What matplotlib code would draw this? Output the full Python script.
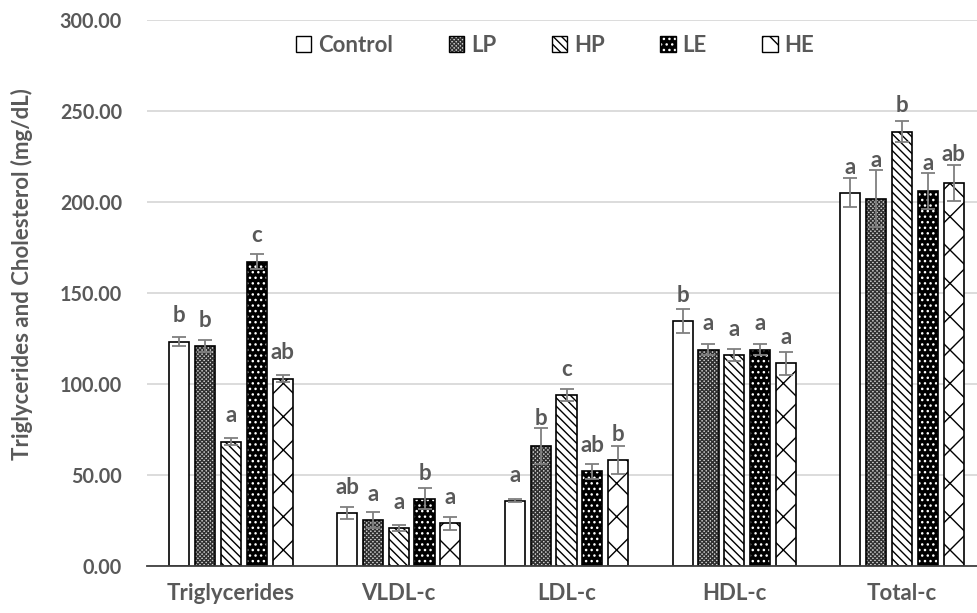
import matplotlib
matplotlib.use("Agg")
import matplotlib.pyplot as plt
from matplotlib.patches import Patch
from matplotlib.legend_handler import HandlerTuple
import numpy as np

categories = ["Triglycerides", "VLDL-c", "LDL-c", "HDL-c", "Total-c"]
series_names = ["Control", "LP", "HP", "LE", "HE"]

control = [123.3, 29.0, 35.9, 134.8, 205.0]
control_err = [2.6, 3.3, 0.8, 6.6, 8.0]
control_letters = ["b", "ab", "a", "b", "a"]

lp = [120.7, 25.3, 66.0, 118.9, 201.7]
lp_err = [3.3, 4.2, 10.0, 3.0, 15.7]
lp_letters = ["b", "a", "b", "a", "a"]

hp = [68.4, 21.0, 94.0, 116.0, 238.7]
hp_err = [2.0, 1.6, 3.5, 3.5, 6.0]
hp_letters = ["a", "a", "c", "a", "b"]

le = [167.3, 36.9, 52.0, 118.9, 206.0]
le_err = [4.2, 5.8, 4.0, 3.0, 10.0]
le_letters = ["c", "b", "ab", "a", "a"]

he = [103.0, 23.5, 58.0, 111.5, 210.6]
he_err = [2.0, 3.6, 7.7, 6.3, 10.0]
he_letters = ["ab", "a", "b", "a", "ab"]

yticks = [0, 50, 100, 150, 200, 250, 300]

values = [control, lp, hp, le, he]
errors = [control_err, lp_err, hp_err, le_err, he_err]
letters = [control_letters, lp_letters, hp_letters, le_letters, he_letters]

# styles: (facecolor, hatch, hatchcolor)
styles = [
    ("white", None, "black"),
    ("#d0d0d0", "xxxxxxxx", "#303030"),
    ("white", "\\\\\\\\", "black"),
    ("black", "...", "white"),
    ("white", "x", "black"),
]

plt.rcParams["font.family"] = ["Lato", "DejaVu Sans"]
plt.rcParams["hatch.linewidth"] = 1.0
txt_color = "#595959"
fs = 16

fig = plt.figure(figsize=(9.77, 6.13), dpi=100)
ax = fig.add_axes([147 / 977, 1 - 566 / 613, 839 / 977, 546 / 613])

x = np.arange(len(categories))
pitch = 0.154
width = 0.12
handles = []
for i, (vals, errs, lets, st) in enumerate(zip(values, errors, letters, styles)):
    fc, hatch, hc = st
    xs = x + (i - 2) * pitch
    ax.bar(xs, vals, width, color=fc, edgecolor=hc, linewidth=0, hatch=hatch, zorder=2)
    ax.bar(xs, vals, width, color="none", edgecolor="black", linewidth=1.2, zorder=3)
    ax.errorbar(xs, vals, yerr=errs, fmt="none", ecolor="#7f7f7f", elinewidth=1.3,
                capsize=5, capthick=1.3, zorder=4)
    for xi, v, e, l in zip(xs, vals, errs, lets):
        ax.text(xi, max(v + 10.5, v + e + 1.7), l, ha="center", va="baseline",
                fontsize=fs, fontweight="bold", color=txt_color, zorder=5)
    h1 = Patch(facecolor=fc, edgecolor=hc, linewidth=0, hatch=hatch)
    h2 = Patch(facecolor="none", edgecolor="black", linewidth=1.0)
    handles.append((h1, h2))

ax.set_xlim(-0.5, 4.5)
ax.set_ylim(0, 300)
ax.set_yticks(yticks)
ax.set_yticklabels([f"{t:.2f}" for t in yticks])
ax.set_xticks(x)
ax.set_xticklabels(categories)
ax.tick_params(axis="both", length=0, labelcolor=txt_color)
ax.tick_params(axis="y", pad=18, labelsize=14.2)
ax.tick_params(axis="x", pad=12, labelsize=fs)
for lab in ax.get_xticklabels() + ax.get_yticklabels():
    lab.set_fontweight("bold")
ax.grid(axis="y", color="#d9d9d9", linewidth=1.3, zorder=0)
ax.set_axisbelow(True)
for s in ["left", "right", "top"]:
    ax.spines[s].set_visible(False)
ax.spines["bottom"].set_color("#404040")
ax.spines["bottom"].set_linewidth(1.3)
ax.spines["bottom"].set_zorder(6)

fig.text(22 / 977, 1 - 274 / 613, "Triglycerides and Cholesterol (mg/dL)", rotation=90,
         ha="center", va="center", fontsize=fs, fontweight="bold", color=txt_color)

leg = fig.legend(handles, series_names, loc="center", bbox_to_anchor=(555 / 977, 1 - 45 / 613),
                 ncol=5, frameon=False, handlelength=0.7, handleheight=0.7,
                 handletextpad=0.3, columnspacing=2.5,
                 handler_map={tuple: HandlerTuple(ndivide=1)},
                 prop={"size": fs, "weight": "bold"})
for t in leg.get_texts():
    t.set_color(txt_color)

fig.savefig("out.png", dpi=100)
